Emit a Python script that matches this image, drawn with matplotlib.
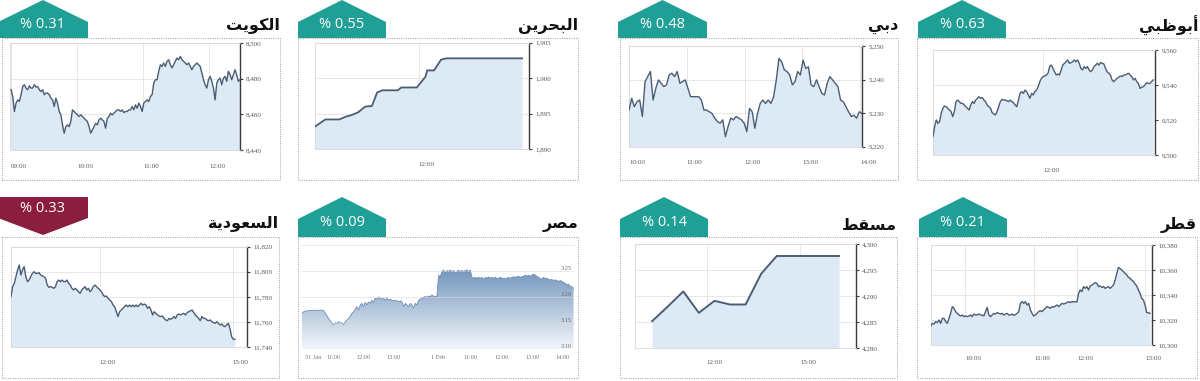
import numpy as np
import matplotlib.pyplot as plt
from matplotlib.patches import Polygon, Rectangle, PathPatch
from matplotlib.colors import LinearSegmentedColormap

# ---------------- data ----------------
# Arabic names, already in shaped (presentation) forms, visual order
names = {
    'kw': '\uFE96\uFEF3\uFEEE\uFEDC\uFEDF\uFE8D',          # الكويت
    'bh': '\uFEE6\uFEF3\uFEAE\uFEA4\uFE92\uFEDF\uFE8D',    # البحرين
    'db': '\uFEF2\uFE91\uFEA9',                            # دبي
    'ad': '\uFEF2\uFE92\uFEC7\uFEEE\uFE91\uFE83',          # أبوظبي
    'sa': '\uFE94\uFEF3\uFEA9\uFEEE\uFECC\uFEB4\uFEDF\uFE8D',  # السعودية
    'eg': '\uFEAE\uFEBC\uFEE3',                            # مصر
    'mu': '\uFEC2\uFED8\uFEB4\uFEE3',                      # مسقط
    'qa': '\uFEAE\uFEC4\uFED7',                            # قطر
}
changes = {'kw': '% 0.31', 'bh': '% 0.55', 'db': '% 0.48', 'ad': '% 0.63',
           'sa': '% 0.33', 'eg': '% 0.09', 'mu': '% 0.14', 'qa': '% 0.21'}

kw_vals = [8473.8, 8470.0, 8461.6, 8466.3, 8468.1, 8467.2, 8471.0, 8475.6, 8476.6, 8474.7,
           8473.8, 8476.0, 8474.7, 8474.7, 8476.6, 8475.3, 8475.6, 8473.8, 8472.8, 8473.8,
           8471.0, 8471.9, 8471.9, 8471.0, 8469.1, 8468.1, 8464.4, 8469.1, 8466.3, 8461.6,
           8459.7, 8454.1, 8449.4, 8453.1, 8454.1, 8453.1, 8456.0, 8462.5, 8461.6, 8460.6,
           8459.7, 8458.8, 8459.7, 8458.8, 8457.8, 8456.9, 8456.0, 8453.1, 8449.4, 8451.3,
           8453.1, 8455.0, 8454.1, 8456.9, 8457.8, 8456.9, 8456.0, 8452.2, 8457.8, 8458.8,
           8460.6, 8459.7, 8460.6, 8461.6, 8462.5, 8462.5, 8461.6, 8462.5, 8461.0, 8461.6,
           8461.6, 8462.5, 8462.5, 8464.4, 8462.5, 8465.3, 8463.4, 8466.3, 8464.4, 8461.6,
           8466.3, 8467.2, 8468.1, 8467.2, 8470.0, 8471.0, 8477.5, 8479.4, 8479.4, 8484.1,
           8487.8, 8486.9, 8488.8, 8486.9, 8489.7, 8490.6, 8487.8, 8486.0, 8487.8, 8489.7,
           8491.6, 8490.6, 8492.5, 8490.6, 8489.7, 8488.8, 8487.8, 8488.8, 8486.9, 8485.0,
           8486.9, 8487.8, 8488.8, 8487.8, 8486.9, 8483.1, 8479.4, 8476.6, 8474.7, 8479.4,
           8481.3, 8478.5, 8474.7, 8468.1, 8477.5, 8479.4, 8480.3, 8476.6, 8480.3, 8481.3,
           8478.5, 8484.1, 8482.2, 8479.4, 8482.2, 8485.0, 8482.2, 8478.5, 8479.4]

bh_times = ['11:00', '11:06', '11:14', '11:18', '11:21', '11:25', '11:29', '11:33', '11:36', '11:39',
            '11:48', '11:50', '11:59', '12:01', '12:04', '12:05', '12:09', '12:13', '12:16', '13:00']
bh_vals = [1893.2, 1894.2, 1894.2, 1894.6, 1894.8, 1895.2, 1896.0, 1896.1, 1898.0, 1898.3,
           1898.3, 1898.7, 1898.7, 1899.3, 1900.2, 1901.1, 1901.1, 1902.6, 1902.8, 1902.8]

db_vals = [5230.9, 5234.4, 5231.9, 5233.4, 5233.9, 5229.0, 5239.4, 5240.9, 5242.4, 5233.9,
           5237.4, 5239.9, 5238.9, 5237.9, 5238.4, 5241.4, 5241.9, 5240.9, 5242.4, 5238.9,
           5239.4, 5239.9, 5237.4, 5234.9, 5234.9, 5234.9, 5234.9, 5233.9, 5230.9, 5230.9,
           5230.4, 5229.9, 5228.5, 5227.5, 5227.0, 5228.0, 5223.0, 5226.0, 5228.5, 5228.0,
           5229.0, 5228.5, 5228.0, 5227.0, 5224.5, 5231.4, 5230.4, 5225.5, 5229.9, 5232.9,
           5233.9, 5232.9, 5233.9, 5232.9, 5234.9, 5239.9, 5246.3, 5245.3, 5242.9, 5242.4,
           5241.4, 5238.4, 5239.4, 5242.4, 5241.4, 5245.8, 5243.3, 5243.8, 5238.4, 5237.9,
           5239.9, 5237.9, 5235.9, 5235.4, 5238.9, 5240.9, 5239.9, 5238.9, 5237.9, 5233.9,
           5233.4, 5231.9, 5230.4, 5229.0, 5229.4, 5228.5, 5230.4, 5229.9]

ad_vals = [9510.5, 9516.2, 9520.0, 9518.1, 9519.0, 9523.8, 9526.7, 9528.0, 9527.6, 9526.7,
           9525.7, 9524.8, 9521.9, 9524.8, 9530.5, 9531.4, 9530.5, 9529.5, 9529.5, 9528.6,
           9527.6, 9526.7, 9525.7, 9528.6, 9530.5, 9529.5, 9531.4, 9532.4, 9533.3, 9532.4,
           9532.8, 9531.4, 9530.5, 9528.6, 9527.6, 9526.7, 9524.2, 9523.4, 9522.9, 9524.8,
           9527.6, 9530.5, 9531.8, 9531.4, 9531.4, 9531.0, 9530.5, 9531.4, 9530.5, 9529.9,
           9528.6, 9527.6, 9531.4, 9535.2, 9536.2, 9535.2, 9537.1, 9536.2, 9534.3, 9532.4,
           9535.2, 9534.3, 9536.2, 9537.1, 9539.0, 9541.9, 9543.8, 9544.8, 9545.1, 9545.7,
           9546.7, 9550.5, 9551.4, 9549.5, 9547.6, 9545.7, 9546.3, 9545.7, 9548.6, 9551.4,
           9552.4, 9553.3, 9554.3, 9552.4, 9552.8, 9553.3, 9554.3, 9553.3, 9554.3, 9552.4,
           9549.5, 9548.6, 9550.5, 9549.5, 9550.5, 9548.6, 9547.6, 9548.6, 9550.5, 9551.4,
           9552.4, 9551.4, 9552.8, 9552.4, 9552.0, 9549.5, 9547.6, 9546.7, 9545.7, 9542.9,
           9541.9, 9542.9, 9543.8, 9544.4, 9545.1, 9544.8, 9545.7, 9545.7, 9546.3, 9546.7,
           9545.7, 9544.8, 9542.9, 9543.8, 9541.9, 9540.9, 9538.1, 9538.7, 9539.0, 9540.0,
           9541.3, 9540.9, 9540.9, 9541.9, 9542.9]

sa_vals = [11780.3, 11788.2, 11790.9, 11796.2, 11801.5, 11805.4, 11797.5, 11801.5, 11804.1, 11796.2,
           11792.2, 11793.5, 11796.2, 11798.8, 11800.1, 11798.8, 11798.8, 11799.3, 11797.5, 11796.7,
           11796.2, 11794.8, 11789.5, 11787.7, 11788.2, 11787.7, 11786.9, 11788.2, 11792.2, 11793.5,
           11792.2, 11793.5, 11792.2, 11792.2, 11793.5, 11790.9, 11789.5, 11786.9, 11785.6, 11786.9,
           11785.6, 11784.2, 11782.9, 11785.6, 11786.9, 11788.2, 11785.6, 11786.9, 11784.2, 11785.6,
           11788.2, 11789.5, 11788.2, 11786.9, 11785.6, 11784.2, 11781.6, 11780.3, 11780.8, 11778.9,
           11777.6, 11776.3, 11773.6, 11772.3, 11768.3, 11764.4, 11768.3, 11769.7, 11771.0, 11772.3,
           11773.6, 11772.3, 11773.6, 11772.3, 11773.6, 11772.3, 11773.6, 11772.3, 11773.6, 11775.0,
           11773.6, 11774.4, 11773.6, 11771.0, 11772.3, 11769.7, 11765.7, 11768.3, 11767.0, 11765.7,
           11764.9, 11764.4, 11764.9, 11763.0, 11761.7, 11761.2, 11763.0, 11762.3, 11763.0, 11764.4,
           11763.0, 11765.7, 11766.5, 11765.7, 11766.5, 11767.0, 11765.7, 11767.6, 11768.3, 11769.1,
           11769.7, 11767.6, 11765.7, 11764.4, 11763.0, 11761.2, 11764.4, 11763.0, 11763.0, 11761.7,
           11761.2, 11761.7, 11760.4, 11759.6, 11759.1, 11760.4, 11759.1, 11757.7, 11758.5, 11757.0,
           11756.4, 11757.7, 11759.1, 11755.1, 11748.5, 11746.4, 11746.4]

eg_vals = [3.169, 3.172, 3.173, 3.174, 3.174, 3.174, 3.175, 3.175, 3.175, 3.174,
           3.175, 3.175, 3.175, 3.174, 3.169, 3.164, 3.159, 3.155, 3.150, 3.147,
           3.151, 3.149, 3.153, 3.150, 3.151, 3.147, 3.153, 3.156, 3.159, 3.164,
           3.169, 3.172, 3.177, 3.182, 3.175, 3.185, 3.188, 3.182, 3.190, 3.185,
           3.191, 3.188, 3.194, 3.190, 3.198, 3.196, 3.200, 3.198, 3.196, 3.198,
           3.194, 3.198, 3.194, 3.196, 3.194, 3.193, 3.194, 3.193, 3.191, 3.193,
           3.191, 3.182, 3.188, 3.185, 3.182, 3.188, 3.185, 3.179, 3.188, 3.185,
           3.194, 3.196, 3.198, 3.200, 3.201, 3.200, 3.202, 3.201, 3.204, 3.202,
           3.201, 3.202, 3.242, 3.239, 3.249, 3.252, 3.246, 3.251, 3.249, 3.252,
           3.249, 3.251, 3.247, 3.249, 3.252, 3.249, 3.251, 3.249, 3.251, 3.252,
           3.249, 3.252, 3.239, 3.236, 3.238, 3.236, 3.238, 3.236, 3.238, 3.234,
           3.238, 3.236, 3.239, 3.236, 3.238, 3.236, 3.238, 3.236, 3.236, 3.238,
           3.236, 3.236, 3.236, 3.236, 3.238, 3.236, 3.238, 3.239, 3.238, 3.239,
           3.240, 3.238, 3.239, 3.240, 3.242, 3.240, 3.242, 3.240, 3.242, 3.244,
           3.242, 3.240, 3.238, 3.236, 3.234, 3.238, 3.236, 3.236, 3.234, 3.233,
           3.234, 3.232, 3.233, 3.232, 3.230, 3.232, 3.230, 3.228, 3.227, 3.223,
           3.225, 3.221, 3.220, 3.217]
# trading-minute positions of the Egypt tick labels (two sessions back to back)
eg_ticks = [6, 48, 108, 168, 258, 322, 384, 446, 506]
eg_labels = ['31 Jan', '11:00', '12:00', '13:00', '1 Feb', '11:00', '12:00', '13:00', '14:00']

mu_times = ['10:15', '10:45', '11:15', '11:45', '12:15', '12:45', '13:15',
            '13:45', '14:15', '14:45', '15:15', '15:45', '16:15']
mu_vals = [4285.2, 4288.0, 4290.9, 4286.8, 4289.1, 4288.4, 4288.4,
           4294.3, 4297.7, 4297.7, 4297.7, 4297.7, 4297.7]

qa_vals = [10315.2, 10317.3, 10316.8, 10318.7, 10317.9, 10320.0, 10317.3, 10321.3, 10321.3, 10318.7,
           10317.3, 10321.3, 10325.3, 10330.7, 10329.3, 10326.7, 10325.3, 10324.0, 10323.2, 10324.0,
           10322.7, 10323.2, 10322.7, 10323.2, 10324.0, 10322.7, 10324.8, 10324.0, 10324.0, 10324.8,
           10324.0, 10324.0, 10323.2, 10326.7, 10330.1, 10324.0, 10322.7, 10324.0, 10325.3, 10324.8,
           10325.9, 10325.3, 10324.8, 10325.3, 10324.0, 10324.8, 10325.3, 10324.0, 10324.0, 10324.8,
           10323.7, 10324.3, 10325.3, 10326.7, 10333.3, 10334.7, 10333.3, 10334.7, 10332.0, 10333.3,
           10328.0, 10325.3, 10323.2, 10324.0, 10325.3, 10326.7, 10327.5, 10326.7, 10328.0, 10329.3,
           10330.7, 10330.1, 10329.3, 10330.7, 10330.1, 10331.2, 10332.0, 10330.7, 10332.0, 10333.3,
           10332.8, 10333.3, 10333.9, 10334.7, 10333.9, 10334.7, 10334.4, 10334.7, 10334.4, 10341.3,
           10344.0, 10342.7, 10346.7, 10345.3, 10346.7, 10344.0, 10347.2, 10348.0, 10348.8, 10349.9,
           10349.3, 10346.7, 10347.2, 10346.1, 10346.7, 10345.3, 10346.1, 10346.7, 10345.3, 10346.7,
           10348.0, 10352.0, 10357.3, 10362.1, 10361.1, 10360.0, 10358.7, 10357.3, 10356.0, 10354.1,
           10353.3, 10352.0, 10350.7, 10348.8, 10347.2, 10344.0, 10341.3, 10337.3, 10336.0, 10332.0,
           10325.9, 10325.9, 10325.3]
# Qatar is drawn on a sample-index axis (the source spaces its samples evenly)
qa_ticks = [20.7, 62.2, 88.3, 129.0]
qa_labels = ['10:00', '11:00', '12:00', '13:00']

# ---------------- style ----------------
W, H = 1200, 381
TEAL = '#1f9f95'
RED = '#8b1d3f'
LINE = '#4b5d74'
FILL = '#dde9f5'
GRID = '#e3e3e3'
TICKF = 'Liberation Serif'


def minutes(s):
    h, m = s.split(':')
    return int(h) * 60 + int(m)


def spread(vals, start, end):
    # evenly spaced intraday samples from start to end
    return np.linspace(minutes(start), minutes(end), len(vals))


fig = plt.figure(figsize=(12, 3.81), dpi=100)
bg = fig.add_axes([0, 0, 1, 1])
bg.set_xlim(0, W)
bg.set_ylim(H, 0)
bg.axis('off')


def card(key, frame, bx, row_top, up=True, title_y=None):
    x0, y0, x1, y1 = frame
    bg.add_patch(Rectangle((x0, y0), x1 - x0, y1 - y0, fill=False, ec='#9c9c9c',
                           lw=0.7, ls=(0, (1, 1.4))))
    b0, b1 = bx
    cx = (b0 + b1) / 2
    if up:
        pts = [(b0, y0), (b0, row_top + 22), (cx, row_top), (b1, row_top + 22), (b1, y0)]
        col, ty = TEAL, row_top + 25
    else:
        pts = [(b0, row_top), (b1, row_top), (b1, row_top + 21), (cx, row_top + 38),
               (b0, row_top + 21)]
        col, ty = RED, row_top + 11
    bg.add_patch(Polygon(pts, closed=True, fc=col, ec='none'))
    bg.text(cx, ty, changes[key], color='white', fontsize=10.5, family='Open Sans',
            ha='center', va='center')
    bg.text(x1, title_y if title_y else row_top + 26, names[key], color='#111111',
            fontsize=11.5, fontweight='bold', family='DejaVu Sans', ha='right', va='center')


def panel(box, t, v, xlim, ylim, ystep, xticks, xlabels, pad, lw=1.0):
    l, top, r, b = box
    ax = fig.add_axes([l / W, 1 - b / H, (r - l) / W, (b - top) / H])
    ax.fill_between(t, v, ylim[0], color=FILL, lw=0, zorder=1)
    ax.plot(t, v, color=LINE, lw=lw, zorder=3)
    ax.set_xlim(xlim)
    ax.set_ylim(ylim)
    yt = np.arange(ylim[0], ylim[1] + 0.001, ystep)
    ax.set_yticks(yt)
    ax.set_yticklabels(['{:,.0f}'.format(k) for k in yt])
    ax.yaxis.tick_right()
    ax.set_xticks(xticks)
    ax.set_xticklabels(xlabels, ha='left')
    ax.grid(color=GRID, lw=0.6)
    ax.set_axisbelow(True)
    for s in ('left', 'top', 'bottom'):
        ax.spines[s].set_color('#d8d8d8')
        ax.spines[s].set_linewidth(0.6)
    ax.spines['right'].set_color('#3a3a3a')
    ax.spines['right'].set_linewidth(1.0)
    ax.tick_params(axis='y', length=2.5, width=0.8, pad=2, labelsize=5,
                   labelcolor='#555555', color='#3a3a3a')
    ax.tick_params(axis='x', length=0, pad=pad * 0.72, labelsize=5, labelcolor='#555555')
    for lab in ax.get_xticklabels() + ax.get_yticklabels():
        lab.set_fontfamily(TICKF)
    return ax


# ---- cards ----
card('kw', (2, 38, 280, 180), (-2, 88), 0)
card('bh', (298, 38, 578, 180), (298, 386), 0)
card('db', (620, 38, 898, 180), (618, 707), 0)
card('ad', (917, 38, 1198, 180), (918, 1006), 0)
card('sa', (2, 237, 279, 378), (-2, 88), 197, up=False, title_y=223)
card('eg', (298, 237, 578, 378), (298, 386), 197, title_y=225)
card('mu', (620, 237, 897, 378), (620, 708), 197, title_y=225)
card('qa', (917, 237, 1197, 378), (919, 1007), 197, title_y=225)

hours = ['09:00', '10:00', '11:00', '12:00']

# Kuwait
panel((10, 43, 240, 150), spread(kw_vals, '09:00', '12:28'), kw_vals, (539, 748),
      (8440, 8500), 20, [minutes(h) for h in hours], hours, 13.5)

# Bahrain
panel((315, 42.7, 529, 149.3), [minutes(s) for s in bh_times], bh_vals, (660, 784),
      (1890, 1905), 5, [minutes('12:00')], ['12:00'], 13, lw=1.3)

# Dubai
dh = ['10:00', '11:00', '12:00', '13:00', '14:00']
panel((629, 46, 862, 146.7), spread(db_vals, '10:00', '14:02'), db_vals, (600, 842),
      (5220, 5250), 10, [minutes(h) for h in dh], dh, 13)

# Abu Dhabi
panel((933, 50, 1155, 155), spread(ad_vals, '10:00', '14:00'), ad_vals, (600, 842),
      (9500, 9560), 20, [minutes('12:00')], ['12:00'], 12.5)

# Saudi
panel((11, 246.7, 246.7, 347.3), spread(sa_vals, '10:00', '15:03'), sa_vals, (600, 919),
      (11740, 11820), 20, [minutes('12:00'), minutes('15:00')], ['12:00', '15:00'], 13)

# Muscat
panel((635, 244, 855.7, 348.3), [minutes(s) for s in mu_times], mu_vals, (582, 1007),
      (4280, 4300), 5, [minutes('12:00'), minutes('15:00')], ['12:00', '15:00'], 12,
      lw=1.4)

# Qatar
panel((930.7, 245, 1151.7, 345), np.arange(len(qa_vals)), qa_vals, (0, 133),
      (10300, 10380), 20, qa_ticks, qa_labels, 10.5)

# Egypt: gradient area
l, top, r, b = 302, 245, 574, 349.3
ax = fig.add_axes([l / W, 1 - b / H, (r - l) / W, (b - top) / H])
eg_t = np.linspace(0, 543, len(eg_vals))
poly = ax.fill_between(eg_t, eg_vals, 3.10, color='none', lw=0)
cmap = LinearSegmentedColormap.from_list('eg', ['#f3f6fa', '#b3c6dc', '#7194bb'])
grad = np.linspace(1, 0, 256).reshape(-1, 1)
im = ax.imshow(grad, aspect='auto', cmap=cmap, extent=[0, 544, 3.10, 3.255],
               origin='upper', zorder=1)
clip = PathPatch(poly.get_paths()[0], transform=ax.transData, fc='none', ec='none')
ax.add_patch(clip)
im.set_clip_path(clip)
ax.plot(eg_t, eg_vals, color='#6b8db4', lw=0.6, zorder=2)
ax.set_xlim(0, 544)
ax.set_ylim(3.10, 3.30)
eg_y = [3.10, 3.15, 3.20, 3.25]
ax.set_yticks(eg_y)
ax.set_yticklabels(['{:.2f}'.format(k) for k in eg_y], ha='right', va='bottom')
ax.yaxis.tick_right()
ax.tick_params(axis='y', length=0, pad=-1.5, labelsize=4.5, labelcolor='#666666')
ax.set_xticks(eg_ticks)
ax.set_xticklabels(eg_labels, ha='left')
ax.tick_params(axis='x', length=0, pad=6 * 0.72, labelsize=4.5, labelcolor='#777777')
for lab in ax.get_xticklabels() + ax.get_yticklabels():
    lab.set_fontfamily(TICKF)
# grid and labels above the gradient so the price labels stay readable
ax.grid(axis='y', color='#d6d6d6', lw=0.6, alpha=0.6)
ax.set_axisbelow(False)
for s in ('left', 'right', 'bottom'):
    ax.spines[s].set_visible(False)
ax.spines['top'].set_color('#e6e6e6')
ax.spines['top'].set_linewidth(0.6)

fig.savefig('out.png', dpi=100)
